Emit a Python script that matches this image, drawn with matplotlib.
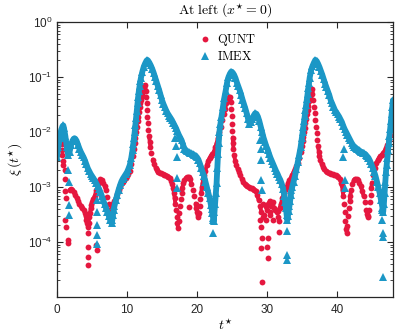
import numpy as np
import matplotlib
matplotlib.use("Agg")
import matplotlib.pyplot as plt
from matplotlib.ticker import LogLocator, NullFormatter, FixedLocator

# ---------------- data (log10 of xi) ----------------
imex_t = [0.0,0.2,0.4,0.6,0.8,0.9,1.0,1.2,1.4,1.6,1.8,2.0,2.2,2.4,2.6,2.8,3.0,3.2,3.4,3.6,3.8,4.0,4.2,4.4,4.6,4.8,
          5.0,5.2,5.4,5.6,5.8,6.0,6.2,6.4,6.6,6.8,7.0,7.2,7.4,7.6,7.8,7.9,8.0,8.1,8.2,8.4,8.6,8.8,9.0,9.2,9.4,9.6,9.8,
          10.0,10.2,10.4,10.6,10.8,10.9,11.0,11.1,11.2,11.3,11.4,11.5,11.6,11.7,11.8,11.9,12.0,12.2,12.4,12.6,12.8,12.9,
          13.0,13.2,13.4,13.6,13.8,14.0,14.2,14.4,14.6,14.8,15.0,15.2,15.4,15.6,15.8,16.0,16.2,16.4,16.6,16.8,17.0,17.2,
          17.4,17.6,17.8,18.0,18.2,18.4,18.6,18.8,19.0,19.2,19.4,19.6,19.8,20.0,20.2,20.4,20.6,20.8,21.0,21.2,21.4,21.6,
          21.8,22.0,22.1,22.2,22.3,22.4,22.5,22.6,22.7,22.8,22.9,23.0,23.1,23.2,23.35,23.5,23.7,23.9,24.1,24.3,24.5,24.7,
          24.9,25.1,25.3,25.5,25.7,25.9,26.1,26.3,26.5,26.7,26.9,27.1,27.3,27.5,27.7,27.9,28.1,28.3,28.5,28.7,28.9,29.1,
          29.3,29.5,29.7,29.9,30.1,30.3,30.5,30.7,30.9,31.1,31.3,31.5,31.7,31.9,32.1,32.3,32.5,32.6,32.7,32.8,32.9,33.0,
          33.1,33.2,33.3,33.4,33.5,33.6,33.8,34.0,34.2,34.4,34.6,34.8,35.0,35.1,35.2,35.3,35.4,35.5,35.6,35.7,35.8,35.9,
          36.0,36.1,36.3,36.5,36.7,36.9,37.1,37.3,37.5,37.7,37.9,38.1,38.3,38.5,38.7,38.9,39.1,39.3,39.5,39.7,39.9,40.1,
          40.3,40.5,40.7,40.9,41.1,41.3,41.5,41.7,41.9,42.1,42.3,42.5,42.7,42.9,43.1,43.3,43.5,43.7,43.9,44.1,44.3,44.5,
          44.7,44.9,45.1,45.3,45.5,45.7,45.9,46.1,46.3,46.5,46.6,46.7,46.8,46.9,47.0,47.1,47.2,47.3,47.4,47.5,47.6,47.7,
          47.8,47.9,48.0]
imex_log10 = [-2.45,-2.28,-2.1,-1.96,-1.89,-1.88,-1.93,-2.08,-2.27,-2.42,-2.36,-2.24,-2.16,-2.12,-2.12,-2.16,-2.23,-2.3,
              -2.36,-2.41,-2.46,-2.52,-2.59,-2.66,-2.71,-2.76,-2.8,-2.84,-2.88,-2.93,-2.98,-3.03,-3.09,-3.16,-3.24,-3.31,
              -3.38,-3.45,-3.52,-3.6,-3.66,-3.6,-3.5,-3.42,-3.35,-3.24,-3.14,-3.05,-2.97,-2.9,-2.85,-2.81,-2.77,-2.73,
              -2.67,-2.6,-2.48,-2.32,-2.22,-2.11,-2.0,-1.87,-1.74,-1.61,-1.48,-1.36,-1.25,-1.16,-1.08,-1.01,-0.9,-0.81,
              -0.75,-0.7,-0.69,-0.7,-0.74,-0.79,-0.85,-0.92,-1.0,-1.08,-1.16,-1.24,-1.33,-1.42,-1.49,-1.55,-1.61,-1.66,
              -1.7,-1.74,-1.78,-1.83,-1.88,-1.93,-1.99,-2.05,-2.1,-2.15,-2.23,-2.3,-2.33,-2.35,-2.37,-2.38,-2.39,-2.4,
              -2.42,-2.43,-2.46,-2.5,-2.57,-2.65,-2.73,-2.8,-2.9,-3.0,-3.1,-3.2,-3.33,-3.4,-3.48,-3.56,-3.62,-3.45,-3.3,
              -3.1,-2.93,-2.65,-2.4,-2.2,-2.0,-1.85,-1.72,-1.55,-1.38,-1.25,-1.1,-1.0,-0.94,-0.9,-0.92,-0.96,-1.02,-1.1,
              -1.17,-1.24,-1.32,-1.41,-1.49,-1.57,-1.66,-1.76,-1.85,-1.82,-1.76,-1.7,-1.66,-1.67,-1.72,-1.8,-1.9,-2.0,
              -2.1,-2.18,-2.26,-2.32,-2.4,-2.47,-2.53,-2.59,-2.65,-2.71,-2.76,-2.82,-2.87,-2.94,-3.03,-3.17,-3.27,-3.38,
              -3.5,-3.6,-3.52,-3.43,-3.35,-3.25,-3.15,-3.06,-3.0,-2.9,-2.8,-2.68,-2.55,-2.42,-2.28,-2.1,-2.0,-1.9,-1.8,
              -1.7,-1.6,-1.5,-1.4,-1.3,-1.2,-1.1,-1.01,-0.88,-0.8,-0.74,-0.69,-0.71,-0.76,-0.82,-0.89,-0.96,-1.04,-1.12,
              -1.19,-1.26,-1.33,-1.42,-1.48,-1.54,-1.6,-1.64,-1.68,-1.72,-1.77,-1.82,-1.89,-1.95,-2.0,-2.05,-2.1,-2.15,
              -2.2,-2.24,-2.27,-2.29,-2.31,-2.33,-2.35,-2.36,-2.38,-2.39,-2.41,-2.44,-2.47,-2.52,-2.58,-2.65,-2.72,-2.8,
              -2.9,-3.0,-3.11,-3.24,-3.38,-3.45,-3.3,-3.1,-2.9,-2.72,-2.6,-2.47,-2.33,-2.2,-2.07,-1.94,-1.8,-1.68,-1.55,
              -1.42]
imex_extra_t = [1.6,1.65,1.7,1.7,5.67,5.67,5.67,5.67,5.7,16.9,16.95,17.1,17.1,17.15,22.3,22.3,22.3,22.35,
                29.0,29.1,29.2,29.2,29.25,32.8,32.85,32.85,40.9,41.0,41.1,41.1,46.5,46.5,46.55,46.55,46.6]
imex_extra_log10 = [-2.69,-2.9,-3.33,-3.51,-3.24,-3.45,-3.69,-3.87,-4.04,-2.1,-2.25,-2.45,-2.84,-3.02,-3.36,-3.48,-3.6,
                    -3.84,-2.15,-2.3,-2.5,-2.87,-3.05,-3.8,-4.24,-4.33,-2.45,-2.3,-2.87,-3.02,-3.42,-3.6,-3.84,-3.9,-4.63]

qunt_t = [1.8,2.0,2.2,2.4,2.6,2.8,3.0,3.2,3.4,3.6,3.8,4.0,4.1,4.2,4.3,4.4,4.5,4.6,4.7,4.8,4.9,5.0,5.2,5.4,5.6,5.8,
          6.0,6.2,6.4,6.6,6.8,7.0,7.2,7.4,7.6,7.7,7.8,8.0,8.2,8.4,8.6,8.8,9.0,9.2,9.4,9.6,9.8,10.0,10.2,10.4,10.6,10.8,
          11.0,11.1,11.2,11.3,11.4,11.5,11.6,11.7,11.8,11.9,12.0,12.1,12.2,12.3,12.4,12.5,12.57,12.65,12.72,12.8,12.86,
          12.92,12.98,13.05,13.15,13.25,13.35,13.5,13.7,13.9,14.1,14.3,14.5,14.7,14.9,15.1,15.3,15.5,15.7,15.9,16.1,
          16.3,16.5,16.6,16.7,16.8,16.9,17.0,17.1,17.2,17.3,17.4,17.5,17.6,17.7,17.8,17.9,18.05,18.2,18.4,18.6,18.8,
          19.0,19.2,19.4,19.6,19.8,19.9,20.0,20.1,20.2,20.3,20.4,20.5,20.6,20.7,20.8,20.9,21.0,21.2,21.4,21.6,21.8,
          22.0,22.2,22.4,22.6,22.8,23.0,23.2,23.4,23.6,23.8,24.0,24.2,24.4,24.6,24.7,24.8,24.9,24.95,25.0,25.05,25.1,
          25.15,25.2,25.3,25.45,25.6,25.8,26.0,26.2,26.4,26.6,26.8,27.0,27.2,27.4,27.6,27.8,28.0,28.2,28.4,28.6,28.8,
          29.0,29.2,29.4,29.6,29.8,30.0,30.2,30.4,30.6,30.8,31.0,31.2,31.4,31.6,31.8,32.0,32.2,32.4,32.6,32.8,33.0,
          33.2,33.4,33.6,33.8,34.0,34.2,34.4,34.6,34.8,35.0,35.1,35.2,35.3,35.4,35.5,35.6,35.7,35.8,35.9,36.0,36.1,
          36.2,36.3,36.4,36.5,36.6,36.7,36.8,36.9,37.0,37.1,37.2,37.3,37.4,37.5,37.6,37.8,38.0,38.2,38.4,38.6,38.8,
          39.0,39.2,39.4,39.6,39.8,40.0,40.2,40.4,40.6,40.7,40.8,40.9,41.0,41.1,41.2,41.3,41.4,41.5,41.6,41.7,41.8,
          41.9,42.0,42.2,42.4,42.6,42.8,43.0,43.2,43.4,43.6,43.8,44.0,44.2,44.3,44.4,44.5,44.6,44.7,44.8,44.9,45.0,
          45.2,45.4,45.6,45.8,46.0,46.2,46.4,46.6,46.8,47.0,47.2,47.4,47.6,47.8,48.0]
qunt_log10 = [-3.05,-3.04,-3.05,-3.09,-3.14,-3.2,-3.25,-3.3,-3.34,-3.38,-3.42,-3.47,-3.53,-3.6,-3.66,-3.72,-3.65,-3.55,
              -3.47,-3.39,-3.32,-3.27,-3.21,-3.16,-3.06,-2.95,-2.89,-2.86,-2.87,-2.92,-2.98,-3.06,-3.18,-3.3,-3.42,
              -3.45,-3.38,-3.3,-3.25,-3.2,-3.12,-3.05,-3.0,-2.95,-2.9,-2.87,-2.84,-2.8,-2.76,-2.7,-2.58,-2.44,-2.3,
              -2.2,-2.1,-2.0,-1.9,-1.8,-1.72,-1.63,-1.55,-1.48,-1.41,-1.35,-1.3,-1.25,-1.2,-1.17,-1.15,-1.25,-1.37,
              -1.48,-1.6,-1.72,-1.84,-1.96,-2.08,-2.18,-2.27,-2.39,-2.5,-2.59,-2.65,-2.69,-2.72,-2.74,-2.75,-2.77,
              -2.78,-2.79,-2.8,-2.81,-2.84,-2.89,-2.95,-3.02,-3.1,-3.2,-3.3,-3.42,-3.55,-3.66,-3.75,-3.62,-3.48,-3.35,
              -3.22,-3.1,-3.01,-2.93,-2.88,-2.84,-2.82,-2.81,-2.86,-2.94,-3.05,-3.17,-3.3,-3.38,-3.45,-3.5,-3.54,-3.47,
              -3.35,-3.22,-3.1,-3.0,-2.92,-2.85,-2.79,-2.7,-2.6,-2.52,-2.47,-2.43,-2.4,-2.36,-2.28,-2.2,-2.1,-2.0,-1.9,
              -1.79,-1.68,-1.58,-1.48,-1.42,-1.37,-1.36,-1.45,-1.58,-1.7,-1.85,-1.98,-2.1,-2.2,-2.3,-2.42,-2.52,-2.6,
              -2.67,-2.73,-2.79,-2.85,-2.9,-2.94,-2.97,-2.99,-3.0,-3.01,-3.02,-3.03,-3.05,-3.08,-3.15,-3.24,-3.35,-3.45,
              -3.3,-3.5,-3.35,-3.42,-3.3,-3.25,-3.35,-3.28,-3.38,-3.42,-3.46,-3.44,-3.38,-3.3,-3.2,-3.12,-3.05,-3.0,
              -2.93,-2.88,-2.83,-2.78,-2.72,-2.67,-2.62,-2.56,-2.48,-2.37,-2.25,-2.17,-2.09,-2.0,-1.92,-1.84,-1.76,
              -1.68,-1.6,-1.52,-1.44,-1.37,-1.3,-1.25,-1.21,-1.3,-1.42,-1.54,-1.66,-1.78,-1.9,-2.02,-2.14,-2.26,-2.36,
              -2.44,-2.5,-2.58,-2.64,-2.68,-2.71,-2.73,-2.74,-2.75,-2.76,-2.77,-2.78,-2.79,-2.8,-2.82,-2.86,-2.92,-2.97,
              -3.06,-3.16,-3.3,-3.46,-3.62,-3.76,-3.84,-3.7,-3.52,-3.38,-3.26,-3.16,-3.06,-2.95,-2.88,-2.85,-2.85,-2.87,
              -2.92,-2.99,-3.07,-3.17,-3.28,-3.42,-3.49,-3.53,-3.54,-3.42,-3.28,-3.14,-3.02,-2.92,-2.78,-2.66,-2.57,
              -2.51,-2.47,-2.44,-2.41,-2.38,-2.34,-2.29,-2.23,-2.15,-2.06,-1.95,-1.82]
qunt_extra_t = [0.6,0.65,0.7,0.72,0.75,0.8,0.9,1.1,1.2,1.15,1.3,1.15,1.35,1.55,1.6,4.38,4.42,4.45,4.4,5.6,5.65,18.8,
                29.0,29.1,29.3,30.1,29.2,30.0,30.2,29.35,29.5,30.4,30.8,31.6,31.7,31.7,29.8,30.5]
qunt_extra_log10 = [-2.02,-2.12,-2.22,-2.32,-2.42,-2.52,-2.6,-2.69,-2.85,-3.08,-3.2,-3.6,-3.72,-3.96,-4.02,-3.84,-4.09,
                    -4.27,-4.42,-4.05,-4.15,-3.36,-3.6,-3.72,-3.93,-3.93,-4.11,-4.1,-4.29,-4.72,-3.55,-3.5,-3.6,-3.54,
                    -3.62,-3.81,-3.6,-3.45]

series_names = ["QUNT", "IMEX"]
x_ticks = [0, 10, 20, 30, 40]
y_ticks = [1e-4, 1e-3, 1e-2, 1e-1, 1e0]

RED = "#E5173F"
BLUE = "#1B97C6"

plt.rcParams["font.family"] = ["Liberation Sans", "DejaVu Sans"]
plt.rcParams["mathtext.fontset"] = "custom"
plt.rcParams["mathtext.rm"] = "Liberation Sans"
plt.rcParams["mathtext.it"] = "Liberation Sans:italic"
plt.rcParams["mathtext.bf"] = "Liberation Sans:bold"

fig = plt.figure(figsize=(3.99, 3.36), dpi=100)
ax = fig.add_axes([57/399, 1 - 297/336, (393 - 57)/399, (297 - 22)/336])


def band(t, lg, max_jump):
    """Break the connecting band where consecutive samples jump too far."""
    t = np.asarray(t, float)
    lg = np.asarray(lg, float)
    xs, ys = [t[0]], [lg[0]]
    for k in range(1, len(t)):
        if abs(lg[k] - lg[k - 1]) > max_jump:
            xs.append(np.nan)
            ys.append(np.nan)
        xs.append(t[k])
        ys.append(lg[k])
    return np.array(xs), 10.0 ** np.array(ys)


q_t = np.concatenate([qunt_t, qunt_extra_t])
q_v = 10.0 ** np.concatenate([qunt_log10, qunt_extra_log10])
i_t = np.concatenate([imex_t, imex_extra_t])
i_v = 10.0 ** np.concatenate([imex_log10, imex_extra_log10])

qb_t, qb_v = band(qunt_t, qunt_log10, 0.105)
ib_t, ib_v = band(imex_t, imex_log10, 1.0)

ax.plot(qb_t, qb_v, color=RED, linewidth=2.8, solid_capstyle="round", solid_joinstyle="round", zorder=2)
ax.plot(q_t, q_v, linestyle="none", marker="o", markersize=4.2, color=RED, markeredgewidth=0,
        label=series_names[0], zorder=2)
ax.plot(ib_t, ib_v, color=BLUE, linewidth=4.2, solid_capstyle="round", solid_joinstyle="round", zorder=3)
ax.plot(i_t, i_v, linestyle="none", marker="^", markersize=5.4, color=BLUE, markeredgewidth=0,
        label=series_names[1], zorder=3)

ax.set_yscale("log")
ax.set_xlim(0, 48)
ax.set_ylim(1.0e-5, 1.0)
ax.xaxis.set_major_locator(FixedLocator(x_ticks))
ax.set_xticklabels([str(v) for v in x_ticks])
ax.yaxis.set_major_locator(FixedLocator(y_ticks))
ax.set_yticklabels([r"$10^{%d}$" % int(np.log10(v)) for v in y_ticks])
ax.yaxis.set_minor_locator(LogLocator(base=10, subs=np.arange(2, 10), numticks=20))
ax.yaxis.set_minor_formatter(NullFormatter())

ax.tick_params(which="both", direction="in", top=True, right=True, labelsize=8.5, colors="#262626")
ax.tick_params(which="major", length=4, width=0.8)
ax.tick_params(which="minor", length=2, width=0.6)
ax.tick_params(axis="x", pad=5)
for s in ax.spines.values():
    s.set_linewidth(0.9)
    s.set_color("#262626")
    s.set_zorder(5)

ax.set_title(r"$\mathrm{At\ left}\ (x^{\star} = 0)$", fontsize=10, math_fontfamily="cm", pad=5)
ax.set_xlabel(r"$t^{\star}$", fontsize=10, math_fontfamily="cm", labelpad=1)
ax.set_ylabel(r"$\xi\,(t^{\star})$", fontsize=10, math_fontfamily="cm", labelpad=2)

leg = ax.legend(loc="upper left", bbox_to_anchor=(0.395, 0.995), frameon=False, fontsize=9,
                handletextpad=0.5, labelspacing=0.15, borderpad=0.2, handlelength=1.0, markerscale=1.0)
for txt in leg.get_texts():
    txt.set_text(r"$\mathrm{%s}$" % txt.get_text())
    txt.set_math_fontfamily("cm")

fig.savefig("out.png", dpi=100)
